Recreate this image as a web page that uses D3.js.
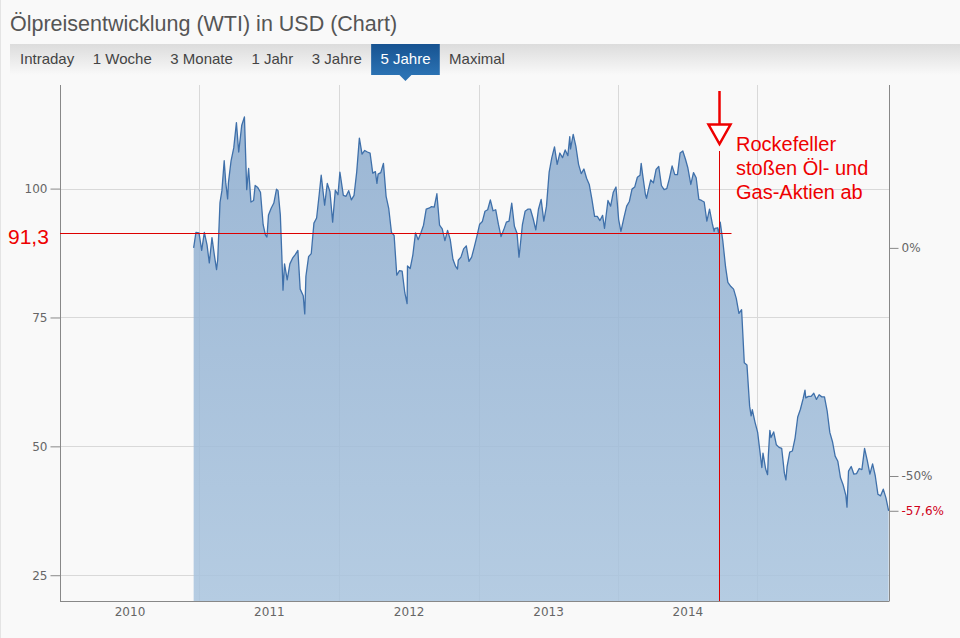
<!DOCTYPE html>
<html lang="de">
<head>
<meta charset="UTF-8" />
<title>Ölpreisentwicklung (WTI) in USD (Chart)</title>
<script src="https://d3js.org/d3.v7.min.js"></script>
<style>
  html, body { margin: 0; padding: 0; background: #f9f9f9; }
  svg { display: block; }
  .axis text { font-family: "DejaVu Sans", Verdana, sans-serif; font-size: 12px; fill: #666; }
  .axis path, .axis line { stroke: #888; }
  .grid line { stroke: #d9d9d9; stroke-width: 1px; }
  .tab text { font-family: "Liberation Sans", Arial, sans-serif; font-size: 15px; fill: #444; }
  .note { font-family: "Liberation Sans", Arial, sans-serif; fill: #ee0000; }
</style>
</head>
<body>
<script>
const wti2010 = [["2010-12-17", 88.5], ["2010-12-23", 91.5], ["2010-12-31", 91.4]];
const wti2011 = [
  ["2011-01-07", 88.0], ["2011-01-14", 91.5], ["2011-01-21", 89.1], ["2011-01-27", 85.6], ["2011-02-03", 90.5],
  ["2011-02-10", 86.7], ["2011-02-15", 84.3], ["2011-02-18", 86.2], ["2011-02-24", 97.3], ["2011-03-01", 99.6],
  ["2011-03-07", 105.4], ["2011-03-11", 101.2], ["2011-03-16", 98.0], ["2011-03-18", 101.1], ["2011-03-25", 105.4],
  ["2011-04-01", 107.9], ["2011-04-08", 112.8], ["2011-04-14", 107.1], ["2011-04-22", 112.3], ["2011-04-29", 113.9],
  ["2011-05-05", 99.8], ["2011-05-10", 103.9], ["2011-05-16", 97.4], ["2011-05-23", 97.7], ["2011-05-27", 100.6],
  ["2011-06-03", 100.2], ["2011-06-10", 99.3], ["2011-06-17", 93.0], ["2011-06-23", 91.0], ["2011-06-27", 90.6],
  ["2011-07-01", 94.9], ["2011-07-08", 96.2], ["2011-07-15", 97.2], ["2011-07-22", 99.9], ["2011-07-26", 99.6],
  ["2011-08-01", 94.9], ["2011-08-05", 86.9], ["2011-08-08", 80.3], ["2011-08-12", 85.4], ["2011-08-19", 82.3],
  ["2011-08-26", 85.4], ["2011-09-02", 86.5], ["2011-09-09", 87.2], ["2011-09-16", 88.0], ["2011-09-22", 80.5],
  ["2011-09-30", 79.2], ["2011-10-04", 75.7], ["2011-10-07", 83.0], ["2011-10-14", 86.8], ["2011-10-21", 87.4],
  ["2011-10-28", 93.3], ["2011-11-04", 94.3], ["2011-11-11", 99.0], ["2011-11-16", 102.6], ["2011-11-25", 96.8],
  ["2011-12-02", 101.0], ["2011-12-09", 99.4], ["2011-12-16", 93.5], ["2011-12-23", 99.7], ["2011-12-30", 98.8]
];
const wti2012 = [
  ["2012-01-04", 103.2], ["2012-01-13", 98.7], ["2012-01-20", 98.5], ["2012-01-27", 99.6], ["2012-02-03", 97.8],
  ["2012-02-10", 98.7], ["2012-02-17", 103.2], ["2012-02-24", 109.8], ["2012-03-02", 106.7], ["2012-03-09", 107.4],
  ["2012-03-16", 107.1], ["2012-03-23", 106.9], ["2012-03-30", 103.0], ["2012-04-06", 103.3], ["2012-04-10", 101.0],
  ["2012-04-13", 102.8], ["2012-04-20", 103.1], ["2012-04-27", 104.9], ["2012-05-04", 98.5], ["2012-05-11", 96.1],
  ["2012-05-18", 91.5], ["2012-05-25", 90.9], ["2012-06-01", 83.2], ["2012-06-08", 84.1], ["2012-06-15", 84.0],
  ["2012-06-22", 79.8], ["2012-06-28", 77.7], ["2012-06-29", 85.0], ["2012-07-06", 84.5], ["2012-07-13", 87.1],
  ["2012-07-20", 91.4], ["2012-07-27", 90.1], ["2012-08-03", 91.4], ["2012-08-10", 92.9], ["2012-08-17", 96.0],
  ["2012-08-24", 96.2], ["2012-08-31", 96.5], ["2012-09-07", 96.4], ["2012-09-14", 99.0], ["2012-09-21", 92.9],
  ["2012-09-28", 92.2], ["2012-10-05", 89.9], ["2012-10-12", 91.9], ["2012-10-19", 90.1], ["2012-10-26", 86.3],
  ["2012-11-02", 84.9], ["2012-11-07", 84.4], ["2012-11-09", 86.1], ["2012-11-16", 86.7], ["2012-11-23", 88.3],
  ["2012-11-30", 88.9], ["2012-12-07", 85.9], ["2012-12-14", 86.7], ["2012-12-21", 88.7], ["2012-12-28", 90.8]
];
const wti2013 = [
  ["2013-01-04", 93.1], ["2013-01-11", 93.6], ["2013-01-18", 95.6], ["2013-01-25", 95.9], ["2013-02-01", 97.8],
  ["2013-02-08", 95.7], ["2013-02-15", 95.9], ["2013-02-22", 93.1], ["2013-03-01", 90.7], ["2013-03-08", 92.0],
  ["2013-03-15", 93.5], ["2013-03-22", 93.7], ["2013-03-29", 97.2], ["2013-04-05", 92.7], ["2013-04-12", 91.3],
  ["2013-04-17", 86.7], ["2013-04-19", 88.0], ["2013-04-26", 93.0], ["2013-05-03", 95.6], ["2013-05-10", 96.0],
  ["2013-05-17", 96.0], ["2013-05-24", 94.2], ["2013-05-31", 92.0], ["2013-06-07", 96.0], ["2013-06-14", 97.9],
  ["2013-06-21", 93.7], ["2013-06-28", 96.6], ["2013-07-05", 103.2], ["2013-07-12", 106.0], ["2013-07-19", 108.1],
  ["2013-07-26", 104.7], ["2013-08-02", 106.9], ["2013-08-09", 106.0], ["2013-08-16", 107.5], ["2013-08-23", 106.4],
  ["2013-08-28", 110.1], ["2013-08-30", 107.7], ["2013-09-06", 110.5], ["2013-09-13", 108.2], ["2013-09-20", 104.7],
  ["2013-09-27", 102.9], ["2013-10-04", 103.8], ["2013-10-11", 102.0], ["2013-10-18", 100.8], ["2013-10-25", 97.9],
  ["2013-11-01", 94.6], ["2013-11-08", 94.6], ["2013-11-15", 93.8], ["2013-11-22", 94.8], ["2013-11-27", 92.3],
  ["2013-12-06", 97.7], ["2013-12-13", 96.6], ["2013-12-20", 99.3], ["2013-12-27", 100.3]
];
const wti2014 = [
  ["2014-01-03", 94.0], ["2014-01-09", 91.7], ["2014-01-17", 94.4], ["2014-01-24", 96.6], ["2014-01-31", 97.5],
  ["2014-02-07", 99.9], ["2014-02-14", 100.3], ["2014-02-21", 102.2], ["2014-02-28", 102.6], ["2014-03-03", 104.9],
  ["2014-03-07", 102.6], ["2014-03-14", 98.9], ["2014-03-17", 98.1], ["2014-03-21", 99.5], ["2014-03-28", 101.7],
  ["2014-04-04", 101.1], ["2014-04-11", 103.7], ["2014-04-18", 104.3], ["2014-04-25", 100.6], ["2014-05-02", 99.8],
  ["2014-05-09", 100.0], ["2014-05-16", 102.0], ["2014-05-23", 104.4], ["2014-05-30", 102.7], ["2014-06-06", 102.7],
  ["2014-06-13", 106.9], ["2014-06-20", 107.3], ["2014-06-27", 105.7], ["2014-07-03", 104.1], ["2014-07-11", 100.8],
  ["2014-07-18", 103.1], ["2014-07-25", 102.1], ["2014-08-01", 97.9], ["2014-08-08", 97.7], ["2014-08-15", 97.4],
  ["2014-08-22", 93.7], ["2014-08-29", 96.0], ["2014-09-05", 93.3], ["2014-09-10", 91.7], ["2014-09-12", 92.3],
  ["2014-09-19", 92.4], ["2014-09-22", 91.3], ["2014-09-26", 93.5], ["2014-10-03", 89.7], ["2014-10-10", 84.8],
  ["2014-10-16", 81.8], ["2014-10-24", 81.0], ["2014-10-31", 80.5], ["2014-11-07", 78.7], ["2014-11-14", 75.8],
  ["2014-11-21", 76.5], ["2014-11-28", 66.2], ["2014-12-05", 65.8], ["2014-12-12", 57.8], ["2014-12-16", 55.9],
  ["2014-12-19", 57.1], ["2014-12-26", 54.7], ["2014-12-31", 53.3]
];
const wti2015 = [
  ["2015-01-02", 52.7], ["2015-01-09", 48.4], ["2015-01-13", 45.9], ["2015-01-16", 48.7], ["2015-01-23", 45.6],
  ["2015-01-28", 44.5], ["2015-01-30", 48.2], ["2015-02-03", 53.1], ["2015-02-06", 51.7], ["2015-02-13", 52.8],
  ["2015-02-20", 50.3], ["2015-02-27", 49.8], ["2015-03-06", 49.6], ["2015-03-13", 44.8], ["2015-03-17", 43.5],
  ["2015-03-20", 46.0], ["2015-03-27", 48.9], ["2015-04-03", 49.1], ["2015-04-10", 51.6], ["2015-04-17", 55.7],
  ["2015-04-24", 57.2], ["2015-05-01", 59.2], ["2015-05-06", 60.9], ["2015-05-08", 59.4], ["2015-05-15", 59.7],
  ["2015-05-22", 59.7], ["2015-05-29", 60.3], ["2015-06-05", 59.1], ["2015-06-12", 60.0], ["2015-06-19", 59.6],
  ["2015-06-26", 59.6], ["2015-07-03", 56.9], ["2015-07-10", 52.7], ["2015-07-17", 50.9], ["2015-07-24", 48.1],
  ["2015-07-31", 47.1], ["2015-08-07", 43.9], ["2015-08-14", 42.5], ["2015-08-21", 40.5], ["2015-08-24", 38.2],
  ["2015-08-28", 45.2], ["2015-09-04", 46.1], ["2015-09-11", 44.6], ["2015-09-18", 44.7], ["2015-09-25", 45.7],
  ["2015-10-02", 45.5], ["2015-10-09", 49.6], ["2015-10-16", 47.3], ["2015-10-23", 44.6], ["2015-10-30", 46.6],
  ["2015-11-06", 44.3], ["2015-11-13", 40.7], ["2015-11-20", 40.4], ["2015-11-27", 41.7], ["2015-12-04", 40.0],
  ["2015-12-11", 37.5]
];

const priceTicks = [25, 50, 75, 100];
const yearLabels = [2010, 2011, 2012, 2013, 2014];
const yearLines = [2011, 2012, 2013, 2014, 2015];
const tabLabels = ["Intraday", "1 Woche", "3 Monate", "1 Jahr", "3 Jahre", "5 Jahre", "Maximal"];
const activeTab = "5 Jahre";
const eventDate = "2014-09-22";
const eventPrice = 91.3;
const eventLines = ["Rockefeller", "stoßen Öl- und", "Gas-Aktien ab"];

const parse = d3.timeParse("%Y-%m-%d");
const data = [].concat(wti2010, wti2011, wti2012, wti2013, wti2014, wti2015)
  .map(d => ({ date: parse(d[0]), value: d[1] }));

const width = 960, height = 638;
const plot = { left: 60, right: 889, top: 85, bottom: 601 };

const x = d3.scaleTime()
  .domain([new Date(2010, 0, 1), new Date(2015, 11, 12)])
  .range([plot.left, plot.right]);
const y = d3.scaleLinear()
  .domain([20, 120])
  .range([plot.bottom, plot.top + 0.5]);

const base = data[0].value;
const last = data[data.length - 1].value;
const lastPct = last / base - 1;
const pct = d3.scaleLinear()
  .domain([-1, 0])
  .range([y(0), y(base)]);

const svg = d3.select("body").append("svg")
  .attr("width", width)
  .attr("height", height);

const defs = svg.append("defs");
const tabGrad = defs.append("linearGradient").attr("id", "tabbar")
  .attr("x1", 0).attr("y1", 0).attr("x2", 0).attr("y2", 1);
tabGrad.append("stop").attr("offset", "0%").attr("stop-color", "#dcdcdc");
tabGrad.append("stop").attr("offset", "100%").attr("stop-color", "#f9f9f9");
const actGrad = defs.append("linearGradient").attr("id", "active")
  .attr("x1", 0).attr("y1", 0).attr("x2", 0).attr("y2", 1);
actGrad.append("stop").attr("offset", "0%").attr("stop-color", "#175391");
actGrad.append("stop").attr("offset", "100%").attr("stop-color", "#2b72b3");
const areaGrad = defs.append("linearGradient").attr("id", "areafill")
  .attr("gradientUnits", "userSpaceOnUse")
  .attr("x1", 0).attr("y1", y(115)).attr("x2", 0).attr("y2", plot.bottom);
areaGrad.append("stop").attr("offset", "0%").attr("stop-color", "#8babce");
areaGrad.append("stop").attr("offset", "100%").attr("stop-color", "#a9c4de");

// linke Randlinie
svg.append("line").attr("x1", 0.5).attr("x2", 0.5).attr("y1", 0).attr("y2", height)
  .attr("stroke", "#e4e4e4");

// Titel
svg.append("text")
  .attr("x", 10).attr("y", 31)
  .style("font-family", "'Liberation Sans', Arial, sans-serif")
  .style("font-size", "21.5px")
  .style("fill", "#555")
  .text("Ölpreisentwicklung (WTI) in USD (Chart)");

// Tab-Leiste
svg.append("rect").attr("x", 10).attr("y", 44).attr("width", width - 10).attr("height", 31)
  .attr("fill", "url(#tabbar)");
const tabs = svg.append("g").attr("class", "tab");
const pad = 9.3;
let tx = 20 - pad;
tabLabels.forEach(label => {
  const g = tabs.append("g");
  const bg = g.append("rect").attr("y", 44).attr("height", 31)
    .attr("fill", label === activeTab ? "url(#active)" : "none");
  const t = g.append("text").attr("x", tx + pad).attr("y", 64).text(label)
    .style("fill", label === activeTab ? "#fff" : "#444");
  const w = t.node().getComputedTextLength();
  bg.attr("x", tx).attr("width", w + 2 * pad);
  if (label === activeTab) {
    const cx = tx + (w + 2 * pad) / 2;
    g.append("path")
      .attr("d", `M${cx - 6},75L${cx + 6},75L${cx},81Z`)
      .attr("fill", "#2b72b3");
  }
  tx += w + 2 * pad;
});

// Raster
const grid = svg.append("g").attr("class", "grid");
grid.selectAll(".h").data(priceTicks).enter().append("line")
  .attr("x1", plot.left).attr("x2", plot.right)
  .attr("y1", d => Math.round(y(d)) + 0.5).attr("y2", d => Math.round(y(d)) + 0.5);
grid.selectAll(".v").data(yearLines).enter().append("line")
  .attr("x1", d => Math.round(x(new Date(d, 0, 1))) + 0.5)
  .attr("x2", d => Math.round(x(new Date(d, 0, 1))) + 0.5)
  .attr("y1", plot.top).attr("y2", plot.bottom);

// Fläche und Linie
svg.append("path").datum(data)
  .attr("fill", "url(#areafill)")
  .attr("fill-opacity", 0.85)
  .attr("d", d3.area().x(d => x(d.date)).y0(plot.bottom).y1(d => y(d.value)));
svg.append("path").datum(data)
  .attr("fill", "none")
  .attr("stroke", "#3f70aa")
  .attr("stroke-width", 1.3)
  .attr("stroke-linejoin", "round")
  .attr("d", d3.line().x(d => x(d.date)).y(d => y(d.value)));

// Achsen
svg.append("g").attr("class", "axis")
  .attr("transform", `translate(${plot.left + 0.5},0)`)
  .call(d3.axisLeft(y).tickValues(priceTicks).tickSize(10).tickPadding(3).tickSizeOuter(0))
  .call(g => g.select(".domain").attr("d", `M0,${plot.top}V${plot.bottom}`));

svg.append("g").attr("class", "axis")
  .attr("transform", `translate(${plot.right + 0.5},0)`)
  .call(d3.axisRight(pct).tickValues([0, -0.5, lastPct]).tickSize(9).tickPadding(3).tickSizeOuter(0)
    .tickFormat(d => (d === 0 ? "" : "-") + d3.format(".1~f")(Math.abs(d) * 100).replace(".", ",") + "%"))
  .call(g => g.select(".domain").attr("d", `M0,${plot.top}V${plot.bottom}`))
  .call(g => g.selectAll(".tick text").filter(d => d === lastPct).style("fill", "#d0021b"));

svg.append("g").attr("class", "axis")
  .attr("transform", `translate(0,${plot.bottom + 0.5})`)
  .call(d3.axisBottom(x).tickValues(yearLabels.map(d => new Date(d, 6, 2)))
    .tickSize(0).tickPadding(6).tickSizeOuter(0).tickFormat(d3.timeFormat("%Y")))
  .call(g => g.select(".domain").attr("d", `M${plot.left},0H${plot.right + 0.5}`));

// Annotation
const ex = Math.round(x(parse(eventDate))) + 0.5;
const ey = Math.round(y(eventPrice)) + 0.5;
svg.append("line").attr("x1", plot.left).attr("x2", ex + 12).attr("y1", ey).attr("y2", ey)
  .attr("stroke", "#dd0000");
svg.append("line").attr("x1", ex).attr("x2", ex).attr("y1", 151).attr("y2", plot.bottom)
  .attr("stroke", "#dd0000");
svg.append("line").attr("x1", ex).attr("x2", ex).attr("y1", 91).attr("y2", 124)
  .attr("stroke", "#ee0000").attr("stroke-width", 2.5);
svg.append("path")
  .attr("d", `M${ex - 11},124.5L${ex + 11},124.5L${ex},144Z`)
  .attr("fill", "#fff").attr("stroke", "#ee0000").attr("stroke-width", 2.5);

svg.append("text").attr("class", "note")
  .attr("x", 8).attr("y", ey + 10)
  .style("font-size", "21px")
  .text(d3.format(".1f")(eventPrice).replace(".", ","));

svg.append("text").attr("class", "note")
  .style("font-size", "20px")
  .selectAll("tspan").data(eventLines).enter().append("tspan")
  .attr("x", 736).attr("y", (d, i) => 151 + i * 24)
  .text(d => d);
</script>
</body>
</html>
